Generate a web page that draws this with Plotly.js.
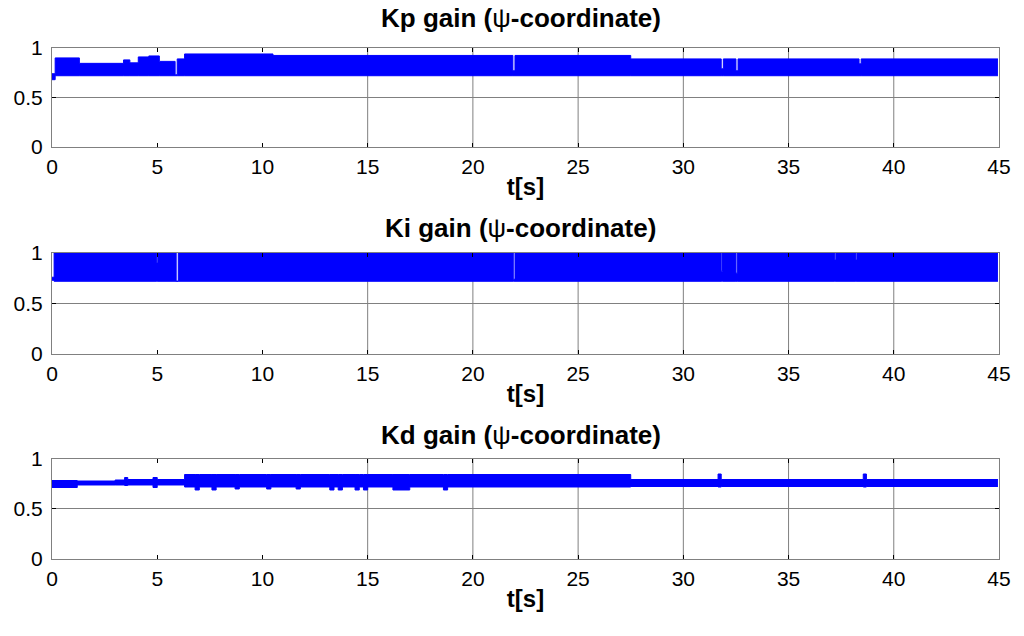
<!DOCTYPE html>
<html>
<head>
<meta charset="utf-8">
<script src="https://cdn.plot.ly/plotly-3.0.1.min.js"></script>
<style>
  body { margin: 0; background: #fff; }
  #chart { width: 1024px; height: 636px; }
</style>
</head>
<body>
<div id="chart"></div>
<script>
// envelope of the dense gain signals (step-wise, hv)
const tKp  = [0, 0.15, 1.3, 3.4, 3.7, 4.1, 4.6, 5.1, 5.85, 5.95, 6.3, 10.5, 21.9, 22.0, 27.5, 31.8, 31.9, 32.5, 32.6, 38.35, 38.45, 44.95];
const kpHi = [0.74, 0.90, 0.845, 0.88, 0.85, 0.91, 0.92, 0.865, 0.73, 0.89, 0.94, 0.925, 0.77, 0.925, 0.89, 0.79, 0.89, 0.77, 0.89, 0.84, 0.89, 0.89];
const kpLo = [0.68, 0.72, 0.72, 0.72, 0.72, 0.72, 0.72, 0.72, 0.72, 0.72, 0.72, 0.72, 0.72, 0.72, 0.72, 0.72, 0.72, 0.72, 0.72, 0.72, 0.72, 0.72];

const tKi  = [0, 0.1, 4.98, 5.03, 5.9, 6.0, 21.92, 22.0, 31.8, 31.86, 32.5, 32.56, 37.2, 37.25, 38.2, 38.25, 44.95];
const kiHi = [0.76, 1, 0.9, 1, 0.72, 1, 0.74, 1, 0.82, 1, 0.8, 1, 0.93, 1, 0.93, 1, 1];
const kiLo = [0.73, 0.72, 0.72, 0.72, 0.72, 0.72, 0.72, 0.72, 0.72, 0.72, 0.72, 0.72, 0.72, 0.72, 0.72, 0.72, 0.72];

const tKd  = [0, 1.2, 3.0, 3.45, 3.6, 4.8, 5.0, 6.3, 6.8, 7.0, 7.6, 7.8, 8.7, 8.9, 10.2, 10.4, 11.6, 11.8, 13.2, 13.4, 13.6, 13.8, 14.4, 14.6, 14.8, 15.0, 16.2, 17.0, 18.6, 18.8, 27.5, 31.65, 31.8, 38.55, 38.7, 44.95];
const kdHi = [0.785, 0.78, 0.79, 0.815, 0.795, 0.815, 0.795, 0.845, 0.845, 0.845, 0.845, 0.845, 0.845, 0.845, 0.845, 0.845, 0.845, 0.845, 0.845, 0.845, 0.845, 0.845, 0.845, 0.845, 0.845, 0.845, 0.845, 0.845, 0.845, 0.845, 0.795, 0.85, 0.795, 0.85, 0.795, 0.795];
const kdLo = [0.715, 0.74, 0.74, 0.735, 0.74, 0.715, 0.74, 0.72, 0.69, 0.72, 0.69, 0.72, 0.70, 0.72, 0.70, 0.72, 0.70, 0.72, 0.69, 0.72, 0.69, 0.72, 0.69, 0.72, 0.69, 0.72, 0.69, 0.72, 0.69, 0.72, 0.725, 0.72, 0.725, 0.72, 0.725, 0.725];

const panels = [
  { name: "Kp", t: tKp, hi: kpHi, lo: kpLo },
  { name: "Ki", t: tKi, hi: kiHi, lo: kiLo },
  { name: "Kd", t: tKd, hi: kdHi, lo: kdLo },
];

const xTicks = [0, 5, 10, 15, 20, 25, 30, 35, 40, 45];
const yTicks = [0, 0.5, 1];
const gridT = [15, 20, 25, 30, 35, 40];

const blue = "#0000ff";
const font = "Liberation Sans, Arial, sans-serif";
const domains = [[0.7689, 0.9245], [0.4434, 0.6022], [0.1211, 0.2783]];
const titleY = [0.9717, 0.6415, 0.316];

const data = [];
const layout = {
  width: 1024, height: 636,
  margin: { l: 52, r: 25, t: 0, b: 0 },
  paper_bgcolor: "#fff", plot_bgcolor: "#fff",
  showlegend: false,
  font: { family: font, color: "#000" },
  annotations: [],
  shapes: [],
};

panels.forEach((p, i) => {
  const n = i === 0 ? "" : String(i + 1);
  const xa = "x" + n, ya = "y" + n;

  data.push({
    x: p.t, y: p.lo, xaxis: xa, yaxis: ya, type: "scatter", mode: "lines",
    line: { color: blue, width: 1, shape: "hv" }, hoverinfo: "skip",
  });
  data.push({
    x: p.t, y: p.hi, xaxis: xa, yaxis: ya, type: "scatter", mode: "lines",
    line: { color: blue, width: 1, shape: "hv" }, fill: "tonexty", fillcolor: blue,
  });

  layout["xaxis" + n] = {
    domain: [0, 1], anchor: ya, range: [0, 45],
    tickvals: xTicks, ticktext: xTicks.map(String),
    ticks: "inside", ticklen: 4, tickcolor: "#000", mirror: "ticks",
    showline: true, linecolor: "#808080", linewidth: 1,
    showgrid: false, zeroline: false,
    tickfont: { size: 21, family: font },
    ticklabelstandoff: 1,
    title: { text: "<b>t[s]</b>", font: { size: 24, family: font }, standoff: 1 },
  };
  layout["yaxis" + n] = {
    domain: domains[i], anchor: xa, range: [0, 1],
    tickvals: yTicks, ticktext: ["0", "0.5", "1"],
    ticks: "inside", ticklen: 4, tickcolor: "#000", mirror: "ticks",
    showline: true, linecolor: "#808080", linewidth: 1,
    showgrid: true, gridcolor: "#808080", gridwidth: 1, zeroline: false,
    tickfont: { size: 21, family: font },
    ticklabelstandoff: 4,
  };

  layout.annotations.push({
    text: "<b>" + p.name + " gain (</b>ψ<b>-coordinate)</b>",
    xref: "paper", yref: "paper", x: 0.495, y: titleY[i],
    xanchor: "center", yanchor: "middle", showarrow: false,
    font: { size: 26, family: font, color: "#000" },
  });

  gridT.forEach(g => {
    layout.shapes.push({
      type: "line", xref: xa, yref: ya + " domain", x0: g, x1: g, y0: 0, y1: 1,
      line: { color: "#808080", width: 1 }, layer: "below",
    });
  });
});

Plotly.newPlot("chart", data, layout, { staticPlot: true });
</script>
</body>
</html>
